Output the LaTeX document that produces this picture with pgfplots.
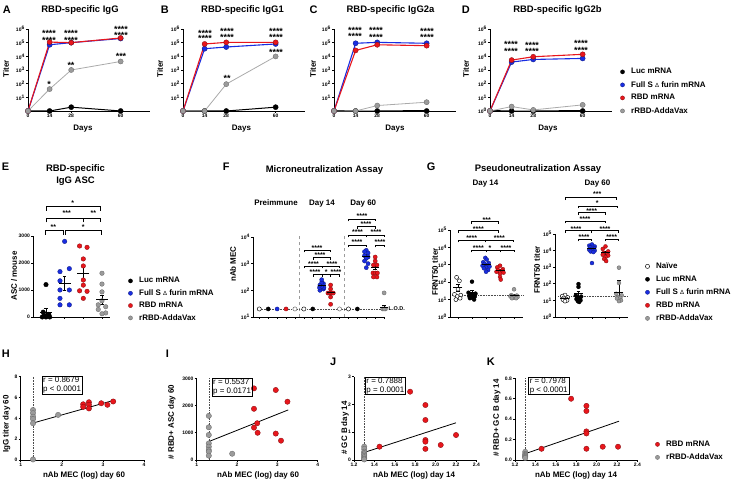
\documentclass[border=0pt]{standalone}
\usepackage{pgfplots}
\pgfplotsset{compat=1.18}
\usepackage{fontspec}
\setmainfont{Liberation Sans}
\newcommand{\fs}[1]{\fontsize{#1}{#1}\selectfont}
\newcommand{\tp}[1]{10\textsuperscript{#1}}
\definecolor{cblue}{RGB}{25,45,225}
\definecolor{cred}{RGB}{232,22,28}
\definecolor{cgray}{RGB}{155,155,155}
\definecolor{cgrayd}{RGB}{100,100,100}
\definecolor{clgray}{RGB}{170,170,170}
\tikzset{
 sB/.style={mark=*, mark options={fill=black,draw=black,line width=0.3bp,solid}},
 sU/.style={mark=*, mark options={fill=cblue,draw=cblue!55!black,line width=0.3bp,solid}},
 sR/.style={mark=*, mark options={fill=cred,draw=cred!55!black,line width=0.3bp,solid}},
 sG/.style={mark=*, mark options={fill=cgray,draw=cgrayd,line width=0.3bp,solid}},
 sGo/.style={mark=*, mark options={fill=white,draw=cgrayd,line width=0.45bp,solid}},
 sN/.style={mark=*, mark options={fill=white,draw=black,line width=0.45bp,solid}},
 lnB/.style={black, line width=1bp, sB, mark size=2.6bp},
 lnG/.style={clgray, line width=0.8bp, sG, mark size=2.6bp},
 lnU/.style={cblue, line width=1.1bp, sU, mark size=2.6bp},
 lnR/.style={cred, line width=1.1bp, sR, mark size=2.6bp},
}
\pgfplotsset{
 /pgf/number format/assume math mode=true,
 base/.style={scale only axis, anchor=south west, clip=false,
   axis x line=bottom, axis y line=left, axis line style={-,line width=0.9bp,black},
   tick align=outside, major tick length=2bp, tick style={line width=0.6bp,black},
   tick label style={font=\fs{5}\bfseries, inner sep=1bp},
   xminorticks=false, yminorticks=false,
   /pgf/number format/1000 sep={}},
 tit/.style={base, width=122bp, height=82bp, xmin=0, xmax=79, ymin=1, ymax=1e6,
   xtick={0,14,28,60}, ytick={10,100,1000,10000,100000,1000000},
   yticklabels={\tp{1},\tp{2},\tp{3},\tp{4},\tp{5},\tp{6}}},
 msem/.style={only marks, mark=-, mark size=#1, mark options={draw=black,line width=0.8bp,solid},
   error bars/y dir=both, error bars/y explicit,
   error bars/error bar style={line width=0.7bp,black},
   error bars/error mark options={rotate=90,mark size=1.8bp,line width=0.7bp,black}},
 lgd/.style 2 args={legend style={at={(#1,#2)}, anchor=west, draw=none, fill=none, inner sep=0pt,
   font=\fs{8}\bfseries, row sep=4.9bp, nodes={inner sep=0.5bp}}, legend cell align=left},
}
\newcommand{\lgimg}[1]{\addlegendimage{legend image code/.code={\draw[#1, mark size=2.1bp] plot coordinates {(0bp,0bp)}; \path (-2.3bp,0bp) (8bp,0bp);}}}
\newcommand{\brk}[4][3]{\draw[line width=0.5bp] (#2,481-#4-#1) -- (#2,481-#4) -- (#3,481-#4) -- (#3,481-#4-#1);}
\newcommand{\sig}[3]{\node[font=\fs{7}\bfseries, anchor=base, inner sep=0pt, text height=1.5bp, text depth=0pt] at (#1,481-#2-4) {#3};}
\newcommand{\bsig}[3]{\node[font=\fs{9}\bfseries, anchor=base, inner sep=0pt, text height=1.5bp, text depth=0pt] at (#1,481-#2-5.2) {#3};}
\newcommand{\plab}[3]{\node[font=\fs{11}\bfseries, anchor=base west, inner sep=0pt] at (#1,481-#2) {#3};}
\newcommand{\ptitle}[3]{\node[font=\fs{9.5}\bfseries, anchor=base, inner sep=0pt] at (#1,481-#2) {#3};}
\newcommand{\ptext}[3]{\node[font=\fs{8}\bfseries, anchor=base, inner sep=0pt] at (#1,481-#2) {#3};}
\newcommand{\pylab}[3]{\node[font=\fs{8}\bfseries, rotate=90, anchor=center, inner sep=0pt] at (#1,481-#2) {#3};}
\newcommand{\rbox}[3]{\node[draw, line width=0.5bp, anchor=north west, align=left, font=\fontsize{8}{8.6}\selectfont, inner xsep=1.2bp, inner ysep=1bp] at (#1,481-#2) {#3};}

\begin{document}
\begin{tikzpicture}[x=1bp,y=1bp]
\path[use as bounding box] (0,0) rectangle (733,481);

% ================= A =================
\begin{axis}[tit, ymode=log, at={(28bp,370bp)}]
\addplot[lnB] coordinates {(0,1)(14,1)(28,1.9)(60,1)};
\addplot[lnU] coordinates {(0,1)(14,70000)(28,100000)(60,200000)};
\addplot[lnR] coordinates {(0,1)(14,110000)(28,100000)(60,220000)};
\addplot[lnG] coordinates {(0,1)(14,40)(28,1000)(60,4200)};
\end{axis}
% ================= B =================
\begin{axis}[tit, ymode=log, at={(183bp,370bp)}]
\addplot[lnB] coordinates {(0,1)(14,1)(28,1)(60,1.9)};
\addplot[lnU] coordinates {(0,1)(14,36000)(28,48000)(60,80000)};
\addplot[lnR] coordinates {(0,1)(14,80000)(28,105000)(60,105000)};
\addplot[lnG] coordinates {(0,1)(14,1)(28,92)(60,9800)};
\end{axis}
% ================= C =================
\begin{axis}[tit, ymode=log, at={(334bp,370bp)}]
\addplot[lnB] coordinates {(0,1)(14,1)(28,1)(60,1)};
\addplot[lnU] coordinates {(0,1)(14,90000)(28,105000)(60,90000)};
\addplot[lnR] coordinates {(0,1)(14,27000)(28,70000)(60,60000)};
\addplot[lnG] coordinates {(0,1)(14,1)(28,2.5)(60,4.4)};
\end{axis}
% ================= D =================
\begin{axis}[tit, ymode=log, at={(490bp,370bp)}, ytick={1,10,100,1000,10000,100000,1000000},
  yticklabels={\tp{0},\tp{1},\tp{2},\tp{3},\tp{4},\tp{5},\tp{6}}, lgd={1.064}{0.238}]
\lgimg{sB}\addlegendentry{Luc mRNA}
\lgimg{sU}\addlegendentry{Full S {\mdseries\fs{6}Δ} furin mRNA}
\lgimg{sR}\addlegendentry{RBD mRNA}
\lgimg{sG}\addlegendentry{rRBD-AddaVax}
\addplot[lnB] coordinates {(0,1)(14,1)(28,1)(60,1)};
\addplot[lnU] coordinates {(0,1)(14,3800)(28,5900)(60,7000)};
\addplot[lnR] coordinates {(0,1)(14,5300)(28,9300)(60,14000)};
\addplot[lnG] coordinates {(0,1)(14,2.1)(28,1.2)(60,2.8)};
\end{axis}

% ================= E =================
\begin{axis}[base, at={(33bp,164bp)}, width=77bp, height=81bp, xmin=0.304, xmax=4.43, ymin=0, ymax=3000,
  xtick={1,2,3,4}, xticklabels={}, ytick={0,1000,2000,3000}, lgd={1.231}{0.216}, legend style={row sep=4.2bp}]
\lgimg{sB}\addlegendentry{Luc mRNA}
\lgimg{sU}\addlegendentry{Full S {\mdseries\fs{6}Δ} furin mRNA}
\lgimg{sR}\addlegendentry{RBD mRNA}
\lgimg{sG}\addlegendentry{rRBD-AddaVax}
\addplot[only marks, sB, mark size=2.3bp] coordinates {(1,1200)(0.85,180)(1.15,100)(0.9,60)(1.1,40)(1,20)(0.8,0)(1.2,0)(1,0)};
\addplot[only marks, sU, mark size=2.3bp] coordinates {(2,2800)(2.25,1790)(1.75,1680)(1.75,1340)(1.75,1000)(2.25,1000)(1.75,690)(1.75,450)(2.25,450)};
\addplot[only marks, sR, mark size=2.3bp] coordinates {(2.8,2630)(3.2,2580)(3,2150)(3,1890)(3,1370)(3,1180)(2.8,970)(3.2,950)(3,690)};
\addplot[only marks, sG, mark size=2.3bp] coordinates {(4,1620)(4,1220)(4,930)(4,600)(3.8,450)(4.2,380)(3.8,280)(4.2,150)(4,120)};
\addplot[msem=6bp] coordinates {(1,178) +- (0,129) (2,1244) +- (0,253) (3,1601) +- (0,244) (4,639) +- (0,172)};
\end{axis}

% ================= F =================
\begin{axis}[base, at={(253bp,164bp)}, width=132bp, height=80bp, xmin=0.295, xmax=15.1, ymode=log, ymin=10, ymax=10000,
  xtick={1,...,15}, xticklabels={}, ytick={10,100,1000,10000}, yticklabels={\tp{1},\tp{2},\tp{3},\tp{4}}]
\addplot[cgray, dashed, line width=0.5bp] coordinates {(5.5,10)(5.5,11000)};
\addplot[cgray, dashed, line width=0.5bp] coordinates {(10.5,10)(10.5,11000)};
\addplot[black!70, densely dotted, line width=0.6bp] coordinates {(0.8,20)(15.2,20)};
\addplot[only marks, sN, mark size=2.1bp] coordinates {(1,20)(6,20)(11,20)};
\addplot[only marks, sB, mark size=2.1bp] coordinates {(2,20)(7,20)(12,20)};
\addplot[only marks, sGo, mark size=2.1bp] coordinates {(5,20)(10,20)};
\addplot[only marks, sU, mark size=2.1bp] coordinates {(3,20) (7.8,100)(8.2,112)(7.75,126)(8.25,126)(8,141)(7.8,158)(8.2,178)(8,200)(8,251) (13,3162)(12.8,2818)(13.2,2512)(12.8,1995)(13.2,1778)(13,1585)(12.8,1259)(13.2,1000)(13,708)};
\addplot[only marks, sR, mark size=2.1bp] coordinates {(4,20) (9,30)(9,56)(8.7,79)(8.85,79)(9,79)(9.15,79)(9.3,79)(9,112)(9,158) (13.8,316)(14.2,316)(13.75,447)(14,447)(14.25,447)(13.8,891)(14.2,891)(14,1259)(14,1778)};
\addplot[only marks, sG, mark size=2.1bp] coordinates {(14.85,20)(15.15,20)(15,20)(15,80)};
\addplot[msem=4bp] coordinates {(8,155) +- (0,16) (9,83) +- (0,12) (13,1869) +- (0,278) (14,755) +- (0,167) (15,22) +- (0,5)};
\end{axis}

% ================= G left (Day 14) =================
\begin{axis}[base, at={(450bp,164bp)}, width=73bp, height=87bp, xmin=0.43, xmax=5.64, ymode=log, ymin=1, ymax=100000,
  xtick={1,...,5}, xticklabels={}, ytick={1,10,100,1000,10000,100000}, yticklabels={\tp{0},\tp{1},\tp{2},\tp{3},\tp{4},\tp{5}}]
\addplot[black!70, densely dotted, line width=0.6bp] coordinates {(0.6,18)(5.64,18)};
\addplot[only marks, sN, mark size=2bp] coordinates {(0.9,190)(1.1,120)(1,40)(0.75,20)(1.2,18)(0.95,15)(1.15,12)(0.85,10)};
\addplot[only marks, sB, mark size=2bp] coordinates {(2,107)(1.75,25)(2.25,22)(1.9,20)(2.1,18)(1.8,16)(2.2,15)(2,13)(1.85,12)(2.15,10)};
\addplot[only marks, sU, mark size=2bp] coordinates {(2.95,2512)(3.05,1995)(2.8,1413)(3.2,1259)(2.9,1122)(3.1,1000)(2.75,891)(3.25,794)(3,708)(2.85,631)(3.15,501)(3,398)};
\addplot[only marks, sR, mark size=2bp] coordinates {(4,891)(3.8,708)(4.2,562)(3.85,501)(4.15,447)(3.75,398)(4.25,355)(4,316)(4,200)(4.05,141)};
\addplot[only marks, sG, mark size=2bp] coordinates {(5,39)(4.8,18)(5.2,17)(4.9,16)(5.1,15)(4.75,15)(5.25,14)(5,13)(4.85,12)(5.15,12)};
\addplot[msem=4.5bp] coordinates {(1,53) +- (0,23) (2,26) +- (0,9) (3,1102) +- (0,180) (4,452) +- (0,72) (5,17) +- (0,2.5)};
\end{axis}

% ================= G right (Day 60) =================
\begin{axis}[base, at={(555bp,164bp)}, width=73bp, height=83bp, xmin=0.26, xmax=5.67, ymode=log, ymin=1, ymax=100000,
  xtick={1,...,5}, xticklabels={}, ytick={1,10,100,1000,10000,100000}, yticklabels={\tp{0},\tp{1},\tp{2},\tp{3},\tp{4},\tp{5}},
  lgd={1.230}{0.296}]
\lgimg{sN}\addlegendentry{Naïve}
\lgimg{sB}\addlegendentry{Luc mRNA}
\lgimg{sU}\addlegendentry{Full S {\mdseries\fs{6}Δ} furin mRNA}
\lgimg{sR}\addlegendentry{RBD mRNA}
\lgimg{sG}\addlegendentry{rRBD-AddaVax}
\addplot[black!70, densely dotted, line width=0.6bp] coordinates {(0.5,18)(5.67,18)};
\addplot[only marks, sN, mark size=2bp] coordinates {(1,21)(0.8,18)(1.2,15)(0.9,14)(1.1,12)(0.85,11)(1.15,10)(1,9)};
\addplot[only marks, sB, mark size=2bp] coordinates {(2,96)(2,65)(1.8,20)(2.2,17)(1.9,15)(2.1,13)(1.85,12)(2.15,10)(1.95,9)(2.05,8)};
\addplot[only marks, sU, mark size=2bp] coordinates {(3,23442)(2.8,19953)(3.2,17783)(2.85,15849)(3.15,14125)(3,12589)(2.8,11220)(3.2,10000)(2.9,8913)(3.1,8128)(3,1778)};
\addplot[only marks, sR, mark size=2bp] coordinates {(4,17783)(3.8,12589)(4.2,8913)(3.85,7079)(4.15,6310)(3.8,5623)(4.2,5012)(4,3981)(3.9,3162)(4.05,2344)};
\addplot[only marks, sG, mark size=2bp] coordinates {(5,933)(5,112)(4.8,25)(5.2,20)(4.9,16)(5.1,14)(4.85,13)(5.15,10)(5,9)};
\addplot[msem=4.5bp] coordinates {(1,13.7) +- (0,1.5) (2,26.5) +- (0,9.4) (3,13071) +- (0,1830) (4,7280) +- (0,1500) (5,32) += (0,128) -= (0,20)};
\end{axis}

% ================= H =================
\begin{axis}[base, at={(20.7bp,21bp)}, width=123.3bp, height=83.3bp, xmin=1, xmax=4, ymin=0, ymax=8, xtick={1,2,3,4}, ytick={0,2,4,6,8}]
\addplot[black!70, densely dotted, line width=0.6bp] coordinates {(1.3,0)(1.3,8)};
\addplot[black, line width=0.8bp] coordinates {(1.3,3.55)(3.3,5.77)};
\addplot[only marks, sG, mark size=2.7bp] coordinates {(1.3,4.8)(1.3,4.5)(1.3,4.16)(1.3,3.94)(1.3,3.53)(1.3,0.05)(1.91,4.33)};
\addplot[only marks, sR, mark size=2.7bp] coordinates {(2.52,5.35)(2.52,5.1)(2.66,5.55)(2.66,5.3)(2.66,4.95)(2.96,5.45)(3.11,5.3)(3.25,5.62)};
\end{axis}
% ================= I =================
\begin{axis}[base, at={(196.7bp,21bp)}, width=121bp, height=81.7bp, xmin=1, xmax=4, ymin=0, ymax=3000, xtick={1,2,3,4}, ytick={0,1000,2000,3000}]
\addplot[black!70, densely dotted, line width=0.6bp] coordinates {(1.3,0)(1.3,3000)};
\addplot[black, line width=0.8bp] coordinates {(1.29,670)(3.27,1840)};
\addplot[only marks, sG, mark size=2.7bp] coordinates {(1.3,1620)(1.3,1200)(1.3,920)(1.3,610)(1.3,490)(1.3,370)(1.3,310)(1.3,160)(1.88,230)};
\addplot[only marks, sR, mark size=2.7bp] coordinates {(2.42,2630)(2.96,2570)(3.25,2140)(2.42,1880)(2.5,1350)(2.42,1190)(2.51,1000)(2.96,970)(3.09,710)};
\end{axis}
% ================= J =================
\begin{axis}[base, at={(354bp,21bp)}, width=122.4bp, height=83.3bp, xmin=1.2, xmax=2.4, ymin=0, ymax=3,
  xtick={1.2,1.4,1.6,1.8,2.0,2.2,2.4}, ytick={0,1,2,3},
  xticklabel style={/pgf/number format/.cd, fixed, fixed zerofill, precision=1}]
\addplot[black!70, densely dotted, line width=0.6bp] coordinates {(1.3,0)(1.3,3)};
\addplot[black, line width=0.8bp] coordinates {(1.29,0.26)(2.2,1.34)};
\addplot[only marks, sG, mark size=2.7bp] coordinates {(1.3,0.48)(1.3,0.4)(1.3,0.3)(1.3,0.25)(1.3,0.2)(1.3,0.15)(1.3,0.1)(1.3,0.05)(1.3,0.02)};
\addplot[only marks, sR, mark size=2.7bp] coordinates {(1.45,0.48)(1.75,2.46)(1.9,1.98)(1.9,1.44)(1.9,0.72)(1.9,0.66)(1.9,0.4)(2.05,0.54)(2.2,0.9)};
\end{axis}
% ================= K =================
\begin{axis}[base, at={(515bp,21bp)}, width=122.4bp, height=81.7bp, xmin=1.2, xmax=2.4, ymin=0, ymax=0.8,
  xtick={1.2,1.4,1.6,1.8,2.0,2.2,2.4}, ytick={0,0.2,0.4,0.6,0.8},
  xticklabel style={/pgf/number format/.cd, fixed, fixed zerofill, precision=1},
  yticklabel style={/pgf/number format/.cd, fixed, fixed zerofill, precision=1},
  lgd={1.142}{0.111}]
\lgimg{sR}\addlegendentry{RBD mRNA}
\lgimg{sG}\addlegendentry{rRBD-AddaVax}
\addplot[black!70, densely dotted, line width=0.6bp] coordinates {(1.3,0)(1.3,0.8)};
\addplot[black, line width=0.8bp] coordinates {(1.31,0.065)(2.22,0.38)};
\addplot[only marks, sG, mark size=2.7bp] coordinates {(1.3,0.08)(1.3,0.06)(1.3,0.05)(1.3,0.04)(1.3,0.03)(1.3,0.02)};
\addplot[only marks, sR, mark size=2.7bp] coordinates {(1.46,0.11)(1.75,0.6)(1.9,0.53)(1.9,0.48)(1.9,0.28)(1.9,0.26)(1.9,0.11)(2.06,0.13)(2.21,0.13)};
\end{axis}

% ================= text: top row =================
\plab{2.7}{13.3}{A}\plab{160.7}{13.3}{B}\plab{309.3}{13.3}{C}\plab{461.7}{13.3}{D}
\ptitle{80}{12.3}{RBD-specific IgG}\ptitle{242.5}{12.3}{RBD-specific IgG1}
\ptitle{390.5}{12.3}{RBD-specific IgG2a}\ptitle{557.5}{12.3}{RBD-specific IgG2b}
\pylab{6}{69}{Titer}\pylab{160}{69}{Titer}\pylab{313}{69}{Titer}\pylab{466}{69}{Titer}
\ptext{83}{131}{Days}\ptext{241.5}{131}{Days}\ptext{395}{131}{Days}\ptext{548}{131}{Days}
% stars A-D
\bsig{49}{31.7}{****}\bsig{49}{38.3}{****}\bsig{71}{31.7}{****}\bsig{71}{38.3}{****}
\bsig{121}{27.3}{****}\bsig{121}{33.3}{****}\bsig{49}{82}{*}\bsig{71}{63}{**}\bsig{121}{54}{***}
\bsig{205}{31}{****}\bsig{205}{36.7}{****}\bsig{227}{29.3}{****}\bsig{227}{35}{****}
\bsig{276}{29.3}{****}\bsig{276}{35}{****}\bsig{227}{76.7}{**}\bsig{276}{50}{****}
\bsig{355}{28.3}{****}\bsig{355}{34.3}{****}\bsig{376}{28.3}{****}\bsig{376}{35}{****}
\bsig{427}{29.3}{****}\bsig{427}{35}{****}
\bsig{511}{42.7}{****}\bsig{511}{49.3}{****}\bsig{532}{43.3}{****}\bsig{532}{49.3}{****}
\bsig{581}{41.7}{****}\bsig{581}{48.3}{****}

% ================= text: middle row =================
\plab{1.7}{170.7}{E}
\ptitle{75.5}{171.7}{RBD-specific}\ptitle{75.5}{183.3}{IgG ASC}
\pylab{14}{276}{ASC / mouse}
\brk[4]{46}{100.7}{206.7}\sig{72.7}{201.5}{*}
\brk[4]{46}{83.3}{218.3}\sig{66.7}{212}{***}
\brk[4]{83.3}{100.7}{218.3}\sig{93.3}{212}{**}
\brk[4]{45}{63.3}{230.7}\sig{53.3}{225.5}{**}
\brk[4]{65.7}{101.7}{230.7}\sig{83.3}{225.5}{*}

\plab{222.7}{170.7}{F}
\ptitle{324.5}{172.3}{Microneutralization Assay}
\ptext{276}{206}{Preimmune}\ptext{322}{206}{Day 14}\ptext{363.3}{206}{Day 60}
\pylab{233}{264}{nAb MEC}
\node[font=\fs{5.5}\bfseries, anchor=west, inner sep=0pt] at (388.5,481-309) {L.O.D.};
\brk[2.5]{304}{330.7}{250}\sig{317}{246.5}{****}
\brk[2.5]{312.9}{330.7}{257.3}\sig{320}{253.8}{****}
\brk[2.5]{304}{321.8}{266}\sig{313.5}{262.5}{****}
\brk[2.5]{321.8}{339.7}{266}\sig{332}{262.5}{****}
\brk[2.5]{312.9}{321.8}{274.3}\sig{315}{270.8}{****}
\brk[2.5]{321.8}{330.7}{274.3}\sig{326.2}{270.8}{*}
\brk[2.5]{330.7}{339.7}{274.3}\sig{336}{270.8}{****}
\brk[2.5]{348.6}{375.4}{219}\sig{362}{214.5}{****}
\brk[2.5]{357.5}{375.4}{226.7}\sig{366}{222.5}{****}
\brk[2.5]{348.6}{366.5}{235}\sig{357.5}{231}{****}
\brk[2.5]{366.5}{384.3}{235}\sig{376}{231}{****}
\brk[2.5]{348.6}{366.5}{245}\sig{357}{240.5}{****}
\brk[2.5]{375.4}{384.3}{245}\sig{380}{240.5}{****}

\plab{426.7}{170.7}{G}
\ptitle{538}{171.7}{Pseudoneutralization Assay}
\ptext{485.5}{186}{Day 14}\ptext{597.5}{186}{Day 60}
\pylab{435}{272}{FRNT50 titer}\pylab{537}{270}{FRNT50 titer}
\brk[2.5]{471.7}{498.3}{221.7}\sig{486.7}{218.3}{***}
\brk[2.5]{458.3}{498.3}{230.7}\sig{478.3}{227.3}{****}
\brk[2.5]{458.3}{485}{240}\sig{471.7}{236.7}{****}
\brk[2.5]{485}{513.3}{240}\sig{499.3}{236.7}{****}
\brk[2.5]{471}{486}{250}\sig{478.3}{247}{****}
\brk[2.5]{486}{500}{250}\sig{490}{247}{*}
\brk[2.5]{500}{514}{250}\sig{506}{247}{****}
\brk[2.5]{565}{616.7}{197.7}\sig{597.3}{192.5}{***}
\brk[2.5]{578.3}{617.3}{206}\sig{597.3}{201.5}{*}
\brk[2.5]{578}{605}{212.7}\sig{591.7}{209.5}{****}
\brk[2.5]{565}{605}{221}\sig{585}{218}{****}
\brk[2.5]{565}{591.7}{230.7}\sig{576}{227.3}{****}
\brk[2.5]{591.7}{618.3}{230.7}\sig{605}{227.3}{****}
\brk[2.5]{578}{591.7}{239}\sig{584}{235.5}{****}
\brk[2.5]{605}{618.3}{239}\sig{611.7}{235.5}{****}

% ================= text: bottom row =================
\plab{1.7}{357.3}{H}\plab{165.7}{357.3}{I}\plab{330}{366}{J}\plab{486.7}{366}{K}
\ptext{84}{477.5}{nAb MEC (log) day 60}\ptext{258}{477.5}{nAb MEC (log) day 60}
\ptext{414}{477.5}{nAb MEC (log) day 14}\ptext{576}{477.5}{nAb MEC (log) day 14}
\pylab{6.7}{424}{IgG titer day 60}\pylab{171.7}{422}{\# RBD+ ASC day 60}
\pylab{345}{428}{\# GC B day 14}\pylab{496.7}{418}{\# RBD+ GC B day 14}
\rbox{41.7}{376}{r = 0.8679\\p < 0.0001}
\rbox{211.7}{378}{r = 0.5537\\p = 0.0171}
\rbox{365}{376.7}{r = 0.7888\\p = 0.0001}
\rbox{528.3}{376.7}{r = 0.7978\\p < 0.0001}
\end{tikzpicture}
\end{document}
